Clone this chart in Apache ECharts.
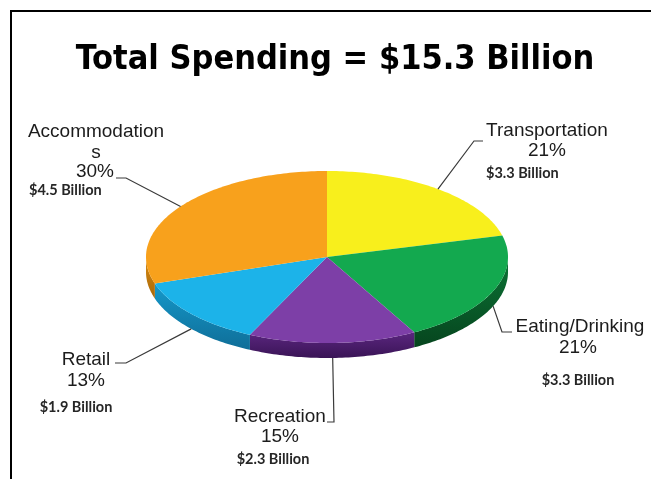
<!DOCTYPE html>
<html>
<head>
<meta charset="utf-8">
<script src="https://cdn.jsdelivr.net/npm/echarts@6/dist/echarts.min.js"></script>
<style>
  html, body { margin: 0; padding: 0; background: #ffffff; }
  #chart { width: 651px; height: 479px; }
</style>
</head>
<body>
<div id="chart"></div>
<script>
// Visitor spending by category (percent of total and billions of dollars)
const categories = ['Transportation', 'Eating/Drinking', 'Recreation', 'Retail', 'Accommodations'];
const shares = [21, 21, 15, 13, 30];
const billions = [3.3, 3.3, 2.3, 1.9, 4.5];
const totalBillions = 15.3;

// Slice colours: top faces, and side walls shading from upper to lower edge
const faceColors = ['#F8EF1C', '#13A94F', '#7D3FA7', '#1CB3E9', '#F8A11C'];
const wallTop = ['#C4BD10', '#0C7436', '#5A267F', '#1598CA', '#D98A10'];
const wallBottom = ['#8F8A0A', '#06451E', '#3A1456', '#0F6E98', '#A8680A'];

// Ellipse geometry of the tilted pie
const CX = 327, CY = 257, RX = 181, RY = 86, DEPTH = 15;

// Label placement: text anchors and leader-line elbows
const labelLayout = [
  { nameX: 547, nameY: 131, pctX: 547, pctY: 151, moneyX: 486, moneyY: 173, moneyAlign: 'left',
    elbow: [[474, 141], [483, 141]] },
  { nameX: 580, nameY: 327, pctX: 578, pctY: 348, moneyX: 578, moneyY: 380, moneyAlign: 'center',
    elbow: [[502, 332], [512, 332]] },
  { nameX: 280, nameY: 417, pctX: 280, pctY: 437, moneyX: 273, moneyY: 459, moneyAlign: 'center',
    elbow: [[334, 422], [327, 422]] },
  { nameX: 86, nameY: 360, pctX: 86, pctY: 381, moneyX: 76, moneyY: 407, moneyAlign: 'center',
    elbow: [[126, 363], [115, 363]] },
  { nameX: 96, nameY: 142, pctX: 95, pctY: 172, moneyX: 29, moneyY: 190, moneyAlign: 'left',
    elbow: [[126, 178], [116, 178]], wrapAt: 13 }
];

const totalShare = shares.reduce((s, v) => s + v, 0);
const startAngles = [];
let acc = 0;
shares.forEach(v => { startAngles.push(acc / totalShare * 360); acc += v; });

function pt(theta, dy) {
  const r = theta * Math.PI / 180;
  return [CX + RX * Math.sin(r), CY - RY * Math.cos(r) + (dy || 0)];
}
function arc(a, b, dy) {
  const n = Math.max(2, Math.ceil(Math.abs(b - a)));
  const pts = [];
  for (let i = 0; i <= n; i++) pts.push(pt(a + (b - a) * i / n, dy));
  return pts;
}

const nameFont = { fontFamily: 'Liberation Sans', fontSize: 19, fill: '#1c1c1c' };
const moneyFont = { fontFamily: 'Lato', fontWeight: 'bold', fontSize: 14.5, fill: '#262626' };

function renderSlice(params, api) {
  const i = params.dataIndex;
  const value = api.value(0);
  const a = startAngles[i];
  const b = a + value / totalShare * 360;
  const children = [];

  // visible front wall (lower half of the ellipse)
  const lo = Math.max(a, 90), hi = Math.min(b, 270);
  if (hi > lo) {
    children.push({
      type: 'polygon',
      shape: { points: arc(lo, hi, 0).concat(arc(hi, lo, DEPTH)) },
      style: {
        fill: {
          type: 'linear', x: 0, y: 0, x2: 0, y2: 1,
          colorStops: [{ offset: 0, color: wallTop[i] }, { offset: 1, color: wallBottom[i] }]
        }
      }
    });
  }
  // top face
  children.push({
    type: 'polygon',
    shape: { points: [[CX, CY]].concat(arc(a, b, 0)) },
    style: { fill: faceColors[i] }
  });

  // leader line from the slice's mid-angle on the outer rim
  const m = (a + b) / 2;
  const rim = (m > 90 && m < 270) ? pt(m, DEPTH) : pt(m, 0);
  const L = labelLayout[i];
  children.push({
    type: 'polyline',
    shape: { points: [rim].concat(L.elbow) },
    style: { stroke: '#3a3a3a', lineWidth: 1.2, fill: null },
    z2: 5
  });

  // label text
  let name = categories[i];
  if (L.wrapAt) name = name.slice(0, L.wrapAt) + '\n' + name.slice(L.wrapAt);
  children.push({
    type: 'text', z2: 6,
    style: Object.assign({ text: name, x: L.nameX, y: L.nameY, align: 'center', verticalAlign: 'middle', lineHeight: 21 }, nameFont)
  });
  children.push({
    type: 'text', z2: 6,
    style: Object.assign({ text: value + '%', x: L.pctX, y: L.pctY, align: 'center', verticalAlign: 'middle' }, nameFont)
  });
  children.push({
    type: 'text', z2: 6,
    style: Object.assign({ text: '$' + billions[i].toFixed(1) + ' Billion', x: L.moneyX, y: L.moneyY, align: L.moneyAlign, verticalAlign: 'middle' }, moneyFont)
  });

  return { type: 'group', children: children };
}

const chart = echarts.init(document.getElementById('chart'), null, { renderer: 'canvas' });
chart.setOption({
  backgroundColor: '#ffffff',
  animation: false,
  title: {
    text: 'Total Spending = $' + totalBillions.toFixed(1) + ' Billion',
    left: 330, top: 38, textAlign: 'center',
    textStyle: { fontFamily: 'DejaVu Sans Condensed', fontWeight: 'bold', fontSize: 34, color: '#000000' }
  },
  graphic: [
    { type: 'line', shape: { x1: 10, y1: 11, x2: 651, y2: 11 }, style: { stroke: '#000', lineWidth: 2 } },
    { type: 'line', shape: { x1: 11, y1: 11, x2: 11, y2: 479 }, style: { stroke: '#000', lineWidth: 2 } }
  ],
  series: [{
    type: 'custom',
    coordinateSystem: 'none',
    renderItem: renderSlice,
    data: shares.map(v => [v])
  }]
});
</script>
</body>
</html>
